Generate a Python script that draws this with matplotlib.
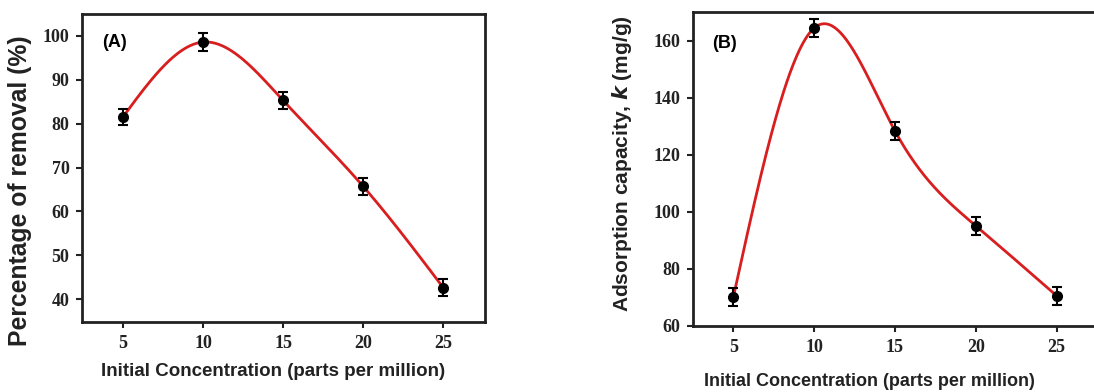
import numpy as np
import matplotlib
matplotlib.use("Agg")
import matplotlib.pyplot as plt

conc = [5, 10, 15, 20, 25]
removal = [81.5, 98.6, 85.3, 65.7, 42.6]
removal_err = [1.8, 2.0, 2.0, 1.9, 1.9]
capacity = [70.2, 164.4, 128.3, 95.1, 70.6]
capacity_err = [3.2, 3.2, 3.2, 3.2, 3.2]

x_ticks = [5, 10, 15, 20, 25]
a_yticks = [40, 50, 60, 70, 80, 90, 100]
b_yticks = [60, 80, 100, 120, 140, 160]


def natural_spline(x, y, xs):
    x = np.asarray(x, float)
    y = np.asarray(y, float)
    n = len(x)
    h = np.diff(x)
    A = np.zeros((n, n))
    r = np.zeros(n)
    A[0, 0] = 1
    A[-1, -1] = 1
    for i in range(1, n - 1):
        A[i, i - 1] = h[i - 1]
        A[i, i] = 2 * (h[i - 1] + h[i])
        A[i, i + 1] = h[i]
        r[i] = 3 * ((y[i + 1] - y[i]) / h[i] - (y[i] - y[i - 1]) / h[i - 1])
    c = np.linalg.solve(A, r)
    b = (y[1:] - y[:-1]) / h - h * (2 * c[:-1] + c[1:]) / 3
    d = (c[1:] - c[:-1]) / (3 * h)
    idx = np.clip(np.searchsorted(x, xs) - 1, 0, n - 2)
    dx = xs - x[idx]
    return y[idx] + b[idx] * dx + c[idx] * dx ** 2 + d[idx] * dx ** 3


W, H = 1094, 392
fig = plt.figure(figsize=(W / 100, H / 100), dpi=100)

serif = "Liberation Serif"
sans = "Liberation Sans"
red = "#d81e1e"
ink = "#222222"


def style(ax):
    for s in ax.spines.values():
        s.set_linewidth(2.0)
        s.set_color(ink)
    ax.tick_params(direction="out", length=4, width=1.5, colors=ink, pad=5)
    for lab in ax.get_xticklabels() + ax.get_yticklabels():
        lab.set_fontfamily(serif)
        lab.set_fontweight("bold")
        lab.set_fontsize(13)
        lab.set_color(ink)


xs = np.linspace(5, 25, 400)

# Panel A
axA = fig.add_axes([82 / W, 1 - 322 / H, (485 - 82) / W, (322 - 14) / H])
axA.plot(xs, natural_spline(conc, removal, xs), color=red, lw=2.0, zorder=2)
axA.errorbar(conc, removal, yerr=removal_err, fmt="o", color="black", ms=7,
             capsize=3.5, elinewidth=1.5, capthick=1.5, zorder=3)
axA.set_xlim(2.45, 27.6)
axA.set_ylim(34.8, 105)
axA.set_xticks(x_ticks)
axA.set_yticks(a_yticks)
style(axA)
axA.set_ylabel("Percentage of removal (%)", fontfamily=sans, fontweight="bold",
               fontsize=17.8, color=ink)
axA.yaxis.set_label_coords(-(82 - 20) / 403, 0.427)
axA.yaxis.label.set_va("center")
axA.set_xlabel("Initial Concentration (parts per million)", fontfamily=sans,
               fontweight="bold", fontsize=13.5, color=ink)
axA.xaxis.set_label_coords(0.473, -(372 - 322) / 308)
axA.xaxis.label.set_va("center")
axA.text(0.05, 0.906, "(A)", transform=axA.transAxes, fontfamily=sans,
         fontweight="bold", fontsize=13, va="center", ha="left")

# Panel B
axB = fig.add_axes([693 / W, 1 - 326 / H, (1097 - 693) / W, (326 - 12) / H])
axB.plot(xs, natural_spline(conc, capacity, xs), color=red, lw=2.0, zorder=2)
axB.errorbar(conc, capacity, yerr=capacity_err, fmt="o", color="black", ms=7,
             capsize=3.5, elinewidth=1.5, capthick=1.5, zorder=3)
axB.set_xlim(2.5, 27.5)
axB.set_ylim(60, 170)
axB.set_xticks(x_ticks)
axB.set_yticks(b_yticks)
style(axB)
axB.set_ylabel(r"Adsorption capacity, $\boldsymbol{k}$ (mg/g)", fontfamily=sans,
               fontweight="bold", fontsize=15, color=ink)
axB.yaxis.set_label_coords(-(693 - 622) / 404, 0.516)
axB.yaxis.label.set_va("center")
axB.set_xlabel("Initial Concentration (parts per million)", fontfamily=sans,
               fontweight="bold", fontsize=13, color=ink)
axB.xaxis.set_label_coords((869 - 693) / 404, -(381 - 326) / 314)
axB.xaxis.label.set_va("center")
axB.text(0.047, 0.901, "(B)", transform=axB.transAxes, fontfamily=sans,
         fontweight="bold", fontsize=13, va="center", ha="left")

fig.savefig("out.png", dpi=100)
